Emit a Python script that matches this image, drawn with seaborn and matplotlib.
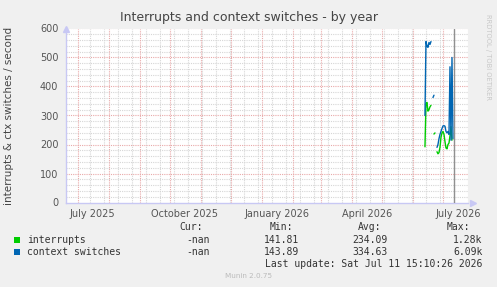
import numpy as np
import pandas as pd
import matplotlib
matplotlib.use("Agg")
import matplotlib.pyplot as plt
import matplotlib.dates as mdates
from matplotlib.patches import Rectangle
import seaborn as sns

# ---------------- data ----------------
dates = pd.date_range("2026-06-13", "2026-07-11", freq="D")
interrupts = [192, 340, 345, 315, 320, 330, 335, np.nan, np.nan, 236, 240, np.nan,
              175, 168, 172, 190, 225, 240, 245, 235, 210, 188, 185, 200, 205,
              230, 262, 215, np.nan]
context_switches = [300, 555, 540, 535, 552, 545, 555, np.nan, 362, 370, np.nan, np.nan,
                    190, 200, 220, 235, 245, 255, 264, 265, 263, 245, 240, 245, 235,
                    468, 215, 500, 220]
series_names = ["interrupts", "context switches"]
series_colors = ["#00CC00", "#0066B3"]
month_labels = ["July 2025", "October 2025", "January 2026", "April 2026", "July 2026"]
month_label_dates = ["2025-07-16", "2025-10-16", "2026-01-16", "2026-04-16", "2026-07-16"]
y_ticks = [0, 100, 200, 300, 400, 500, 600]
legend_cur = ["-nan", "-nan"]
legend_min = ["141.81", "143.89"]
legend_avg = ["234.09", "334.63"]
legend_max = ["1.28k", "6.09k"]
now_date = "2026-07-11 15:10"
title = "Interrupts and context switches - by year"
ylabel = "interrupts & ctx switches / second"
last_update = "Last update: Sat Jul 11 15:10:26 2026"

# ---------------- frame ----------------
frames = []
for name, vals in zip(series_names, [interrupts, context_switches]):
    s = pd.Series(vals, dtype=float)
    seg = s.isna().cumsum()
    df = pd.DataFrame({"date": dates, "value": s, "series": name, "seg": seg})
    df = df.dropna(subset=["value"])
    df["unit"] = name + "_" + df["seg"].astype(str)
    frames.append(df)
data = pd.concat(frames, ignore_index=True)

sns.set_style("white")
plt.rcParams["font.family"] = ["DejaVu Sans"]

W, H = 497, 287
fig = plt.figure(figsize=(W / 100, H / 100), dpi=100, facecolor="#F0F0F0")
L, R, T, B = 66, 468, 28.5, 202.5
ax = fig.add_axes([L / W, 1 - B / H, (R - L) / W, (B - T) / H])
ax.set_facecolor("#FFFFFF")

xmin = pd.Timestamp("2025-06-19 06:00")
xmax = pd.Timestamp("2026-07-26 00:00")
ax.set_xlim(xmin, xmax)
ax.set_ylim(0, 600)

# grid
grid_gray = "#D6D6D6"
grid_red = "#E9A9A9"
for v in range(20, 600, 20):
    if v % 100:
        ax.axhline(v, color=grid_gray, lw=0.8, ls=(0, (1, 1)), zorder=0.5)
for v in range(100, 601, 100):
    ax.axhline(v, color=grid_red, lw=0.8, ls=(0, (1, 1)), zorder=0.6)
for d in pd.date_range("2025-07-13", xmax, freq="14D"):
    ax.axvline(d, color=grid_gray, lw=0.8, ls=(0, (1, 1)), zorder=0.5)
for d in pd.date_range("2025-07-01", xmax, freq="MS"):
    ax.axvline(d, color=grid_red, lw=0.8, ls=(0, (1, 1)), zorder=0.6)

sns.lineplot(data=data, x="date", y="value", hue="series", units="unit",
             estimator=None, palette=dict(zip(series_names, series_colors)),
             hue_order=series_names, linewidth=1.0, legend=False, ax=ax, zorder=3)

ax.axvline(pd.Timestamp(now_date), color="#909090", lw=1.0, zorder=4)

# axes styling
for sp in ["top", "right"]:
    ax.spines[sp].set_visible(False)
for sp in ["left", "bottom"]:
    ax.spines[sp].set_color("#C8C8F4")
    ax.spines[sp].set_linewidth(1.0)
ax.set_yticks(y_ticks)
ax.set_yticklabels([str(v) for v in y_ticks])
ax.tick_params(axis="y", length=2.5, color=grid_red, labelsize=7, labelcolor="#555555", pad=3)
ax.set_xticks(pd.to_datetime(month_label_dates))
ax.set_xticklabels(month_labels)
ax.tick_params(axis="x", length=0, labelsize=7, labelcolor="#555555", pad=5)
ax.set_xlabel("")
ax.set_ylabel(ylabel, fontsize=7.5, color="#444444")
ax.yaxis.set_label_coords(-52 / (R - L), 0.5)

# arrows
ax.plot([0], [1], marker="^", color="#C8C8F4", markersize=4, transform=ax.transAxes, clip_on=False)
ax.plot([1.012], [0], marker=">", color="#C8C8F4", markersize=4, transform=ax.transAxes, clip_on=False)

# title
fig.text(248.5 / W, 1 - 18 / H, title, ha="center", va="center", fontsize=9.0, color="#444444")
fig.text(488 / W, 1 - 14 / H, "RRDTOOL / TOBI OETIKER", rotation=270, ha="center", va="top",
         fontsize=4.9, color="#C8C8C8")

# legend
mono = "DejaVu Sans Mono"
fs = 7
tc = "#333333"
def fy(y):
    return 1 - y / H
fig.text(203.3 / W, fy(227.3), "Cur:", ha="right", va="center", family=mono, fontsize=fs, color=tc)
fig.text(292.7 / W, fy(227.3), "Min:", ha="right", va="center", family=mono, fontsize=fs, color=tc)
fig.text(381 / W, fy(227.3), "Avg:", ha="right", va="center", family=mono, fontsize=fs, color=tc)
fig.text(470 / W, fy(227.3), "Max:", ha="right", va="center", family=mono, fontsize=fs, color=tc)
rows_y = [239.7, 252]
for i, name in enumerate(series_names):
    y = rows_y[i]
    fig.patches.append(Rectangle((14 / W, fy(y + 3)), 6 / W, 6 / H, transform=fig.transFigure,
                                 facecolor=series_colors[i], edgecolor="none"))
    fig.text(26.7 / W, fy(y), name, ha="left", va="center", family=mono, fontsize=fs, color=tc)
    fig.text(210 / W, fy(y), legend_cur[i], ha="right", va="center", family=mono, fontsize=fs, color=tc)
    fig.text(299 / W, fy(y), legend_min[i], ha="right", va="center", family=mono, fontsize=fs, color=tc)
    fig.text(387.7 / W, fy(y), legend_avg[i], ha="right", va="center", family=mono, fontsize=fs, color=tc)
    fig.text(482.3 / W, fy(y), legend_max[i], ha="right", va="center", family=mono, fontsize=fs, color=tc)
fig.text(482.3 / W, fy(263.7), last_update, ha="right", va="center", family=mono, fontsize=fs, color=tc)
fig.text(248.5 / W, fy(276), "Munin 2.0.75", ha="center", va="center", fontsize=5.2, color="#BBBBBB")

fig.savefig("out.png", dpi=100, facecolor=fig.get_facecolor())
